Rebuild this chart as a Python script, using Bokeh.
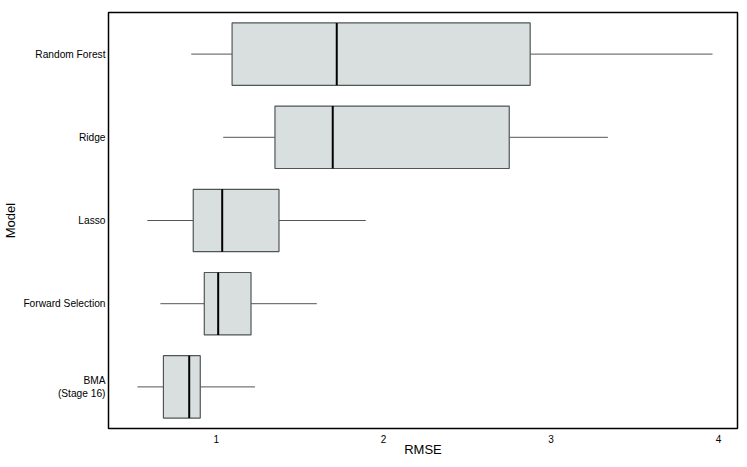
from bokeh.plotting import figure
from bokeh.models import Range1d, FactorRange, ColumnDataSource, FixedTicker
from bokeh.embed import file_html
from bokeh.resources import INLINE

models = ["BMA\n(Stage 16)", "Forward Selection", "Lasso", "Ridge", "Random Forest"]
lower = [0.53, 0.667, 0.589, 1.042, 0.851]
q1 = [0.685, 0.929, 0.863, 1.351, 1.095]
median = [0.839, 1.012, 1.036, 1.696, 1.720]
q3 = [0.905, 1.208, 1.375, 2.750, 2.875]
upper = [1.232, 1.601, 1.893, 3.339, 3.964]
x_ticks = [1, 2, 3, 4]

src = ColumnDataSource(dict(model=models, lower=lower, q1=q1, median=median, q3=q3, upper=upper))

p = figure(width=739, height=459, output_backend="svg", toolbar_location=None,
           x_range=Range1d(0.357, 4.113), y_range=FactorRange(*models, range_padding=0),
           min_border_left=10, min_border_right=2, min_border_top=12, min_border_bottom=10)

p.segment(x0="lower", y0="model", x1="q1", y1="model", source=src, line_color="#555555", line_width=1)
p.segment(x0="q3", y0="model", x1="upper", y1="model", source=src, line_color="#555555", line_width=1)
p.hbar(y="model", left="q1", right="q3", height=0.75, source=src,
       fill_color="#D8DFDE", line_color="#4f5656", line_width=1.2)
p.hbar(y="model", left="median", right="median", height=0.75, source=src,
       fill_color=None, line_color="black", line_width=2)

p.xgrid.visible = False
p.ygrid.visible = False
p.outline_line_color = "black"
p.outline_line_width = 1.5
p.outline_line_alpha = 1

for ax in (p.xaxis, p.yaxis):
    ax.axis_line_color = None
    ax.major_tick_line_color = None
    ax.minor_tick_line_color = None
    ax.major_tick_in = 0
    ax.major_tick_out = 0
    ax.major_label_text_font = "Liberation Sans"
    ax.axis_label_text_font = "Liberation Sans"
    ax.axis_label_text_font_style = "normal"
    ax.axis_label_text_font_size = "13px"
    ax.major_label_text_color = "black"
    ax.axis_label_text_color = "black"

p.xaxis.ticker = FixedTicker(ticks=x_ticks)
p.xaxis.axis_label = "RMSE"
p.xaxis.major_label_text_font_size = "10px"
p.xaxis.major_label_standoff = 6
p.xaxis.axis_label_standoff = -4

p.yaxis.axis_label = "Model"
p.yaxis.major_label_text_font_size = "10.2px"
p.yaxis.major_label_standoff = 3
p.yaxis.axis_label_standoff = 2

open("out.html", "w").write(file_html(p, INLINE))
